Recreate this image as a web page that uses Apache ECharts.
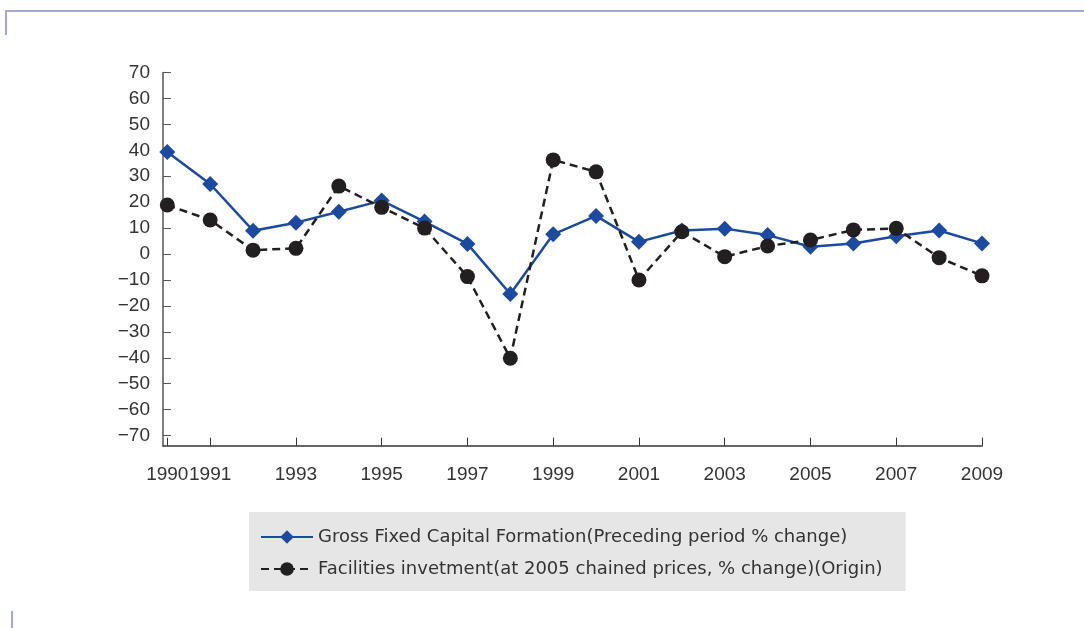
<!DOCTYPE html>
<html>
<head>
<meta charset="utf-8">
<script src="https://cdn.jsdelivr.net/npm/echarts@6/dist/echarts.min.js"></script>
<style>
  html, body { margin: 0; padding: 0; background: #fff; }
  #chart { width: 1084px; height: 628px; }
</style>
</head>
<body>
<div id="chart"></div>
<script>
// Years on the horizontal axis
const years = [1990, 1991, 1992, 1993, 1994, 1995, 1996, 1997, 1998, 1999,
               2000, 2001, 2002, 2003, 2004, 2005, 2006, 2007, 2008, 2009];

// Gross Fixed Capital Formation, preceding period % change
const gfcf = [39.3, 27.0, 9.0, 12.1, 16.3, 20.6, 12.5, 3.9, -15.4, 7.6,
              14.7, 4.7, 9.1, 9.8, 7.3, 2.8, 4.1, 6.9, 9.1, 4.1];

// Facilities investment, at 2005 chained prices, % change
const facilities = [18.9, 13.1, 1.5, 2.2, 26.2, 18.0, 10.0, -8.7, -40.2, 36.3,
                    31.7, -10.0, 8.6, -1.0, 3.1, 5.4, 9.3, 9.9, -1.4, -8.4];

// Tick labels
const xTicks = [1990, 1991, 1993, 1995, 1997, 1999, 2001, 2003, 2005, 2007, 2009];
const yTicks = [-70, -60, -50, -40, -30, -20, -10, 0, 10, 20, 30, 40, 50, 60, 70];

const seriesNames = [
  'Gross Fixed Capital Formation(Preceding period % change)',
  'Facilities invetment(at 2005 chained prices, % change)(Origin)'
];

const AXIS_FONT = '"Liberation Sans", Arial, sans-serif';
const LEGEND_FONT = '"DejaVu Sans", "Liberation Sans", sans-serif';
const TEXT = '#333333';
const FRAME = '#a3a9d2';

const chart = echarts.init(document.getElementById('chart'), null, { renderer: 'canvas' });

chart.setOption({
  animation: false,
  backgroundColor: '#ffffff',
  textStyle: { fontFamily: AXIS_FONT },
  graphic: [
    { type: 'line', shape: { x1: 5, y1: 11, x2: 1084, y2: 11 }, style: { stroke: FRAME, lineWidth: 2 } },
    { type: 'line', shape: { x1: 6, y1: 11, x2: 6, y2: 35 }, style: { stroke: FRAME, lineWidth: 2 } },
    { type: 'line', shape: { x1: 12, y1: 611, x2: 12, y2: 628 }, style: { stroke: FRAME, lineWidth: 2 } }
  ],
  grid: { left: 163, right: 102, top: 72.5, bottom: 182.3, containLabel: false },
  legend: {
    orient: 'vertical',
    left: 249,
    top: 512,
    backgroundColor: '#e6e6e6',
    padding: [16, 23, 13, 11],
    itemGap: 14,
    itemWidth: 52,
    itemHeight: 17,
    textStyle: { color: TEXT, fontSize: 18, fontFamily: LEGEND_FONT },
    data: seriesNames
  },
  xAxis: {
    type: 'value',
    min: 1989.9,
    max: 2009,
    axisLine: { onZero: false, lineStyle: { color: '#333', width: 1.5 } },
    axisTick: { inside: true, length: 8, customValues: xTicks, lineStyle: { color: '#333' } },
    axisLabel: {
      customValues: xTicks, showMinLabel: true, showMaxLabel: true, hideOverlap: false,
      color: TEXT, fontSize: 19, margin: 20, fontFamily: AXIS_FONT,
      formatter: v => String(v)
    },
    splitLine: { show: false }
  },
  yAxis: {
    type: 'value',
    min: -73.9,
    max: 70,
    axisLine: { show: true, lineStyle: { color: '#555', width: 1.5 } },
    axisTick: { show: true, inside: true, length: 8, customValues: yTicks, lineStyle: { color: '#555' } },
    axisLabel: {
      customValues: yTicks, color: TEXT, fontSize: 19, margin: 13, fontFamily: AXIS_FONT,
      formatter: v => String(v).replace('-', '\u2212')
    },
    splitLine: { show: false }
  },
  series: [
    {
      name: seriesNames[0],
      type: 'line',
      data: years.map((y, i) => [y, gfcf[i]]),
      symbol: 'diamond',
      symbolSize: 16,
      color: '#1b4a9e',
      lineStyle: { color: '#1b4a9e', width: 2.5 },
      itemStyle: { color: '#1b4a9e' },
      z: 2
    },
    {
      name: seriesNames[1],
      type: 'line',
      data: years.map((y, i) => [y, facilities[i]]),
      symbol: 'circle',
      symbolSize: 15,
      color: '#231f20',
      lineStyle: { color: '#231f20', width: 2.5, type: [8, 5] },
      itemStyle: { color: '#231f20' },
      z: 3
    }
  ]
});
</script>
</body>
</html>
